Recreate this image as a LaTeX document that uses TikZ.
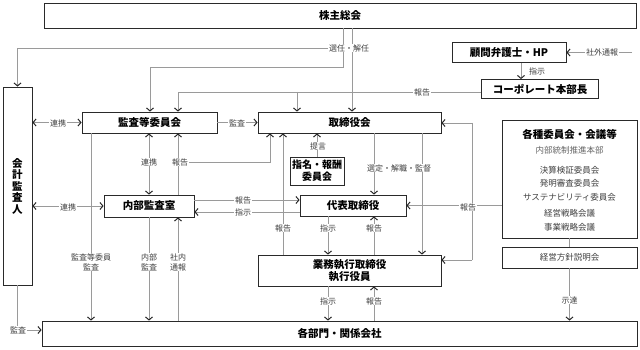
\documentclass[tikz,border=0pt]{standalone}
\usepackage{fontspec}
\setmainfont{Noto Sans CJK JP}
\usetikzlibrary{arrows.meta,shadows}
\definecolor{lnc}{HTML}{9A9A9A}
\definecolor{bxc}{HTML}{2A2A2A}
\definecolor{lbc}{HTML}{404040}
\begin{document}
\begin{tikzpicture}[x=1pt,y=-1pt,
 box/.style={draw=bxc,line width=0.8pt,fill=white,inner sep=0pt,align=center,
   font=\fontsize{10.5}{12.5}\selectfont\bfseries,
   drop shadow={shadow xshift=0.7pt,shadow yshift=-0.7pt,fill=black!70,opacity=1}},
 plainbox/.style={box,font=\fontsize{8.5}{10}\selectfont,text=lbc},
 conn/.style={draw=lnc,line width=0.8pt},
 tipx/.tip={Straight Barb[length=3pt,width=7pt,line width=1pt,color=black!85]},
 arr/.style={conn,-tipx},
 darr/.style={conn,tipx-tipx},
 lbl/.style={fill=white,inner xsep=1pt,inner ysep=0.5pt,text=lbc,font=\fontsize{8}{10}\selectfont,align=center},
 intext/.style={inner sep=0pt,text=lbc,font=\fontsize{8.5}{10}\selectfont},
]
\useasboundingbox (0,0) rectangle (640,350);

% boxes
\node[box,minimum width=592pt,minimum height=25pt] (soukai) at (340,15.5) {株主総会};
\node[box,minimum width=114pt,minimum height=20pt] (komon) at (509,52.5) {顧問弁護士・HP};
\node[box,minimum width=117pt,minimum height=19pt] (corp) at (540,89) {コーポレート本部長};
\node[box,minimum width=29pt,minimum height=198pt,font=\fontsize{10.5}{11.5}\selectfont\bfseries] (kaikei) at (17.5,186) {会\\計\\監\\査\\人};
\node[box,minimum width=135pt,minimum height=21pt] (kansa) at (149.5,122.5) {監査等委員会};
\node[box,minimum width=183pt,minimum height=21pt] (tori) at (349.5,122.5) {取締役会};
\node[box,minimum width=135pt,minimum height=118pt] (kakushu) at (569.5,179) {};
\node[box,minimum width=54pt,minimum height=28pt,font=\fontsize{10}{12}\selectfont\bfseries] (shimei) at (317,171) {指名・報酬\\委員会};
\node[box,minimum width=90pt,minimum height=22pt] (naibu) at (149,206) {内部監査室};
\node[box,minimum width=106pt,minimum height=21pt] (daihyo) at (353,205.5) {代表取締役};
\node[box,minimum width=183pt,minimum height=31pt,font=\fontsize{10.5}{12}\selectfont\bfseries] (gyomu) at (349.5,270.5) {業務執行取締役\\執行役員};
\node[plainbox,minimum width=135pt,minimum height=21pt] (keiei) at (569.5,257.5) {経営方針説明会};
\node[box,minimum width=595pt,minimum height=25pt] (bumon) at (339.5,333.5) {各部門・関係会社};

% texts inside kakushu
\node[inner sep=0pt,font=\fontsize{10.5}{12}\selectfont\bfseries] (kt0) at (569.5,134) {各種委員会・会議等};
\node[intext,text=black!60] (kt1) at (569.5,150) {内部統制推進本部};
\node[intext] (kt2) at (569.5,170) {決算検証委員会};
\node[intext] (kt3) at (569.5,183) {発明審査委員会};
\node[intext] (kt4) at (569.5,197) {サステナビリティ委員会};
\node[intext] (kt5) at (569.5,213) {経営戦略会議};
\node[intext] (kt6) at (569.5,227) {事業戦略会議};

% coordinates
\coordinate (p343a) at (343,48);
\coordinate (p343b) at (343,67);
\coordinate (p150) at (150,67);
\coordinate (c352) at (352,0);
\coordinate (q178) at (178,92);
\coordinate (q297) at (297,92);
\coordinate (c521) at (521,0);
\coordinate (ext) at (632,52.5);
\coordinate (c149) at (149,0);
\coordinate (c178) at (178,162);
\coordinate (c270) at (270,162);
\coordinate (c283) at (283,0);
\coordinate (c374) at (374,0);
\coordinate (c422) at (422,0);
\coordinate (r200) at (0,200);
\coordinate (r212) at (0,212);
\coordinate (k123) at (472,123);
\coordinate (k260) at (472,260);
\coordinate (c328) at (328,0);
\coordinate (c91) at (91,0);
\coordinate (r330) at (0,330);

% connectors
\draw[arr] (soukai.south -| p343a) -- (p343b) -- (p150) -- (kansa.north -| p150);
\draw[arr] (p343a) -| (kaikei.north);
\draw[arr] (soukai.south -| c352) -- (tori.north -| c352);
\draw[arr] (corp.west |- q178) -- (q178) -- (kansa.north -| q178);
\draw[arr] (q297) -- (tori.north -| q297);
\draw[arr] (komon.south -| c521) -- (corp.north -| c521);
\draw[arr] (ext) -- (komon.east);
\draw[darr] (kaikei.east |- kansa.west) -- (kansa.west);
\draw[arr] (kansa.east) -- (tori.west);
\draw[darr] (kaikei.east |- naibu.west) -- (naibu.west);
\draw[darr] (kansa.south -| c149) -- (naibu.north -| c149);
\draw[arr] (naibu.north -| c178) -- (kansa.south -| c178);
\draw[arr] (c178) -- (c270) -- (tori.south -| c270);
\draw[arr] (gyomu.north -| c283) -- (tori.south -| c283);
\draw[arr] (shimei.north) -- (tori.south -| shimei.north);
\draw[arr] (tori.south -| c374) -- (daihyo.north -| c374);
\draw[arr] (tori.south -| c422) -- (gyomu.north -| c422);
\draw[arr] (naibu.east |- r200) -- (daihyo.west |- r200);
\draw[arr] (daihyo.west |- r212) -- (naibu.east |- r212);
\draw[conn] (k123) -- (k260);
\draw[arr] (k123) -- (tori.east |- k123);
\draw[arr] (k260) -- (gyomu.east |- k260);
\draw[arr] (kakushu.west |- daihyo.east) -- (daihyo.east);
\draw[arr] (daihyo.south -| c328) -- (gyomu.north -| c328);
\draw[arr] (gyomu.north -| c374) -- (daihyo.south -| c374);
\draw[arr] (gyomu.south -| c328) -- (bumon.north -| c328);
\draw[arr] (bumon.north -| c374) -- (gyomu.south -| c374);
\draw[arr] (kansa.south -| c91) -- (bumon.north -| c91);
\draw[arr] (naibu.south -| c149) -- (bumon.north -| c149);
\draw[arr] (bumon.north -| c178) -- (naibu.south -| c178);
\draw[arr] (kaikei.south) -- (kaikei.south |- r330) -- (bumon.west |- r330);
\draw[conn] (kakushu.south) -- (keiei.north);
\draw[arr] (keiei.south) -- (bumon.north -| keiei.south);

% labels
\node[lbl] (l1) at (349,48) {選任・解任};
\node[lbl] (l2) at (422,92) {報告};
\node[lbl,fill=none] (l3) at (537,71) {指示};
\node[lbl] (l4) at (602,52.5) {社外通報};
\node[lbl] (l5) at (58,123) {連携};
\node[lbl] (l6) at (237,123) {監査};
\node[lbl] (l7) at (149,162) {連携};
\node[lbl] (l8) at (180,162) {報告};
\node[lbl] (l9) at (68,207) {連携};
\node[lbl] (l10) at (318,146) {提言};
\node[lbl] (l11) at (399,168) {選定・解職・監督};
\node[lbl] (l12) at (243,200) {報告};
\node[lbl] (l13) at (243,212) {指示};
\node[lbl] (l14) at (468,207) {報告};
\node[lbl] (l15) at (283,228) {報告};
\node[lbl] (l16) at (328,228) {指示};
\node[lbl] (l17) at (374,228) {報告};
\node[lbl] (l18) at (328,301) {指示};
\node[lbl] (l19) at (374,301) {報告};
\node[lbl] (l20) at (569.5,300) {示達};
\node[lbl] (l21) at (91,262) {監査等委員\\監査};
\node[lbl] (l22) at (149,262) {内部\\監査};
\node[lbl] (l23) at (178,262) {社内\\通報};
\node[lbl] (l24) at (18,330) {監査};
\end{tikzpicture}
\end{document}
